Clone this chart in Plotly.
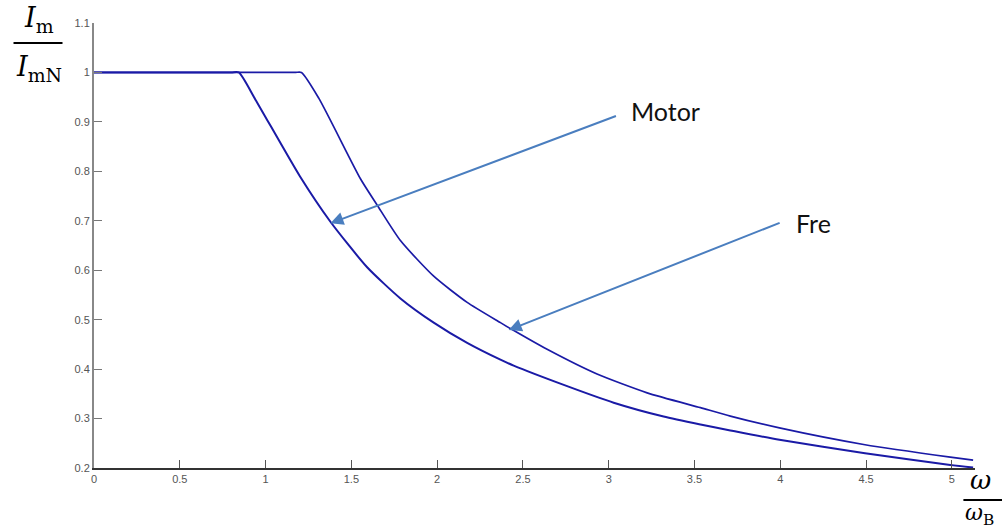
import plotly.graph_objects as go

# ---- data ----
motor_x = [0, 0.8, 0.844, 0.941, 1.2, 1.378, 1.592, 1.786, 1.98, 2.175, 2.369, 2.446,
           2.738, 3.029, 3.32, 3.535, 3.709, 3.995, 4.494, 4.991, 5.124]
motor_y = [1, 1, 1, 0.945, 0.790, 0.698, 0.606, 0.543, 0.494, 0.453, 0.419, 0.407,
           0.368, 0.332, 0.304, 0.288, 0.276, 0.257, 0.230, 0.206, 0.201]

fre_x = [0, 1.17, 1.209, 1.31, 1.553, 1.65, 1.786, 1.98, 2.175, 2.369, 2.427,
         2.641, 2.932, 3.224, 3.535, 3.709, 3.995, 4.494, 4.991, 5.124]
fre_y = [1, 1, 1, 0.948, 0.785, 0.732, 0.660, 0.588, 0.535, 0.494, 0.482,
         0.440, 0.390, 0.352, 0.322, 0.305, 0.281, 0.247, 0.222, 0.216]

x_ticks = [0, 0.5, 1, 1.5, 2, 2.5, 3, 3.5, 4, 4.5, 5]
x_ticktext = ["0", "0.5", "1", "1.5", "2", "2.5", "3", "3.5", "4", "4.5", "5"]
y_ticks = [0.2, 0.3, 0.4, 0.5, 0.6, 0.7, 0.8, 0.9, 1.0, 1.1]
y_ticktext = ["0.2", "0.3", "0.4", "0.5", "0.6", "0.7", "0.8", "0.9", "1", "1.1"]

labels = ["Motor", "Fre"]
# arrow heads (on curves) and tails (near labels), data coordinates
arrow_head = [(1.378, 0.695), (2.417, 0.479)]
arrow_tail = [(3.051, 0.913), (4.005, 0.697)]
label_pos = [(3.33, 0.922), (4.193, 0.696)]

LINE = "#1a1aa6"
ARROW = "#4a7ebf"

fig = go.Figure()
fig.add_trace(go.Scatter(x=motor_x, y=motor_y, mode="lines", name="Motor",
                         line=dict(color=LINE, width=2, shape="spline", smoothing=0.6)))
fig.add_trace(go.Scatter(x=fre_x, y=fre_y, mode="lines", name="Fre",
                         line=dict(color=LINE, width=1.7, shape="spline", smoothing=0.6)))

anns = []
for (hx, hy), (tx, ty) in zip(arrow_head, arrow_tail):
    anns.append(dict(x=hx, y=hy, ax=tx, ay=ty, xref="x", yref="y", axref="x", ayref="y",
                     text="", showarrow=True, arrowhead=2, arrowsize=1.3,
                     arrowwidth=2, arrowcolor=ARROW))
for lab, (lx, ly) in zip(labels, label_pos):
    anns.append(dict(x=lx, y=ly, xref="x", yref="y", text=lab, showarrow=False,
                     font=dict(family="Lato", size=25, color="#111111"),
                     xanchor="center", yanchor="middle"))

# plot area in pixels: x 93.5..974.6, y 23..468
def px(xp):
    return (xp - 93.5) / 881.1

def py(yp):
    return (468 - yp) / 445.0

serif = "DejaVu Serif"
anns += [
    dict(x=px(38), y=py(20), xref="paper", yref="paper", showarrow=False,
         text="<i>I</i><sub>m</sub>", font=dict(family=serif, size=27, color="#000"),
         xanchor="center", yanchor="middle"),
    dict(x=px(38), y=py(68), xref="paper", yref="paper", showarrow=False,
         text="<i>I</i><sub>mN</sub>", font=dict(family=serif, size=27, color="#000"),
         xanchor="center", yanchor="middle"),
    dict(x=px(980), y=py(480), xref="paper", yref="paper", showarrow=False,
         text="<i>ω</i>", font=dict(family=serif, size=26, color="#000"),
         xanchor="center", yanchor="middle"),
    dict(x=px(979), y=py(514), xref="paper", yref="paper", showarrow=False,
         text="<i>ω</i><sub>B</sub>", font=dict(family=serif, size=22, color="#000"),
         xanchor="center", yanchor="middle"),
]

shapes = [
    dict(type="line", xref="paper", yref="paper", x0=px(13), x1=px(62), y0=py(43), y1=py(43),
         line=dict(color="#000", width=2)),
    dict(type="line", xref="paper", yref="paper", x0=px(963), x1=px(1002), y0=py(500), y1=py(500),
         line=dict(color="#000", width=2)),
]

fig.update_layout(
    width=1002, height=531, autosize=False,
    margin=dict(l=93.5, r=27.4, t=23, b=63),
    paper_bgcolor="white", plot_bgcolor="white",
    showlegend=False,
    annotations=anns, shapes=shapes,
    xaxis=dict(range=[0, 5.135], tickmode="array", tickvals=x_ticks, ticktext=x_ticktext,
               ticks="inside", ticklen=8, tickcolor="#555", showline=True, linecolor="#333",
               linewidth=1.5, showgrid=False, zeroline=False,
               tickfont=dict(family="Liberation Sans", size=11, color="#555")),
    yaxis=dict(range=[0.2, 1.1], tickmode="array", tickvals=y_ticks, ticktext=y_ticktext,
               ticks="inside", ticklen=8, tickcolor="#777", showline=True, linecolor="#888",
               linewidth=2, showgrid=False, zeroline=False,
               tickfont=dict(family="Liberation Sans", size=11, color="#555")),
)

fig.write_html("out.html")
